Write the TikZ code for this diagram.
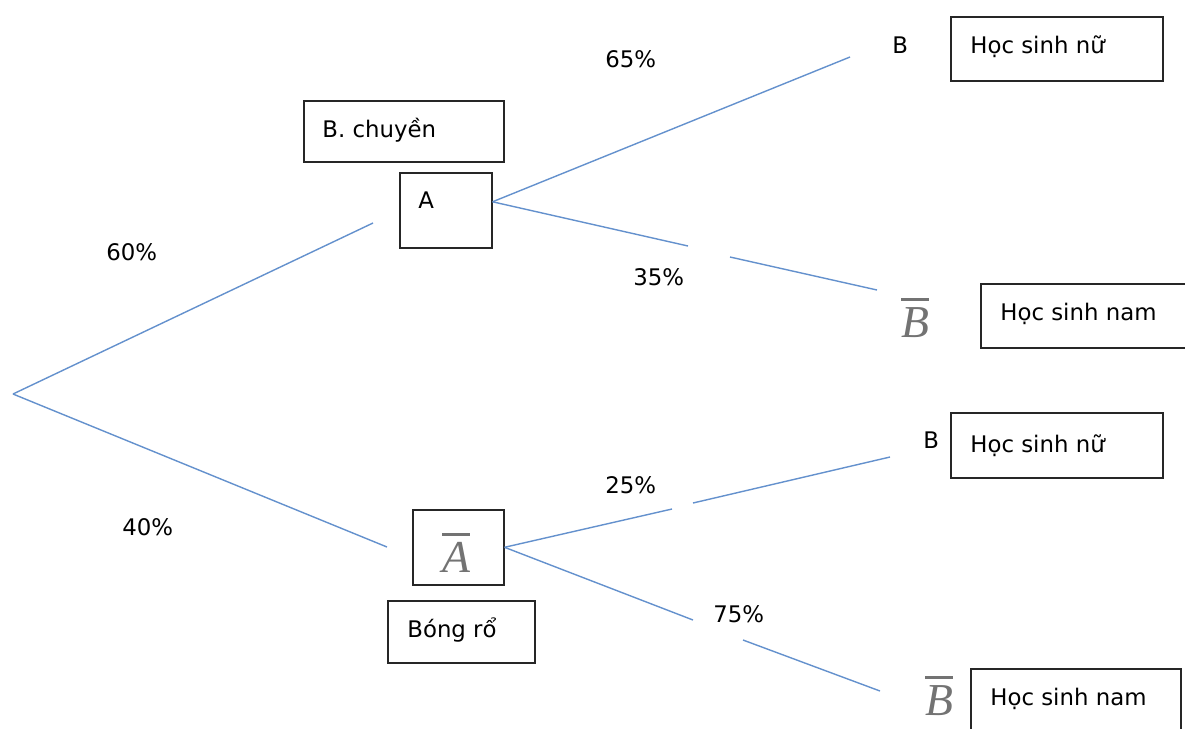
\documentclass[tikz,border=0pt]{standalone}
\usepackage{fontspec}
\setmainfont{DejaVu Sans}
\newfontfamily\varfont{Liberation Serif}
\definecolor{branchblue}{RGB}{100,145,205}
\newcommand{\barsym}[1]{\vbox{\hrule height 1.4pt\kern 3.6pt\hbox{#1}}}

\begin{document}
\begin{tikzpicture}[x=0.02cm, y=-0.02cm,
        box/.style={draw=black!85, line width=0.9pt, anchor=north west, inner sep=0pt},
        txt/.style={anchor=base west, inner sep=0pt, font=\fontsize{13}{15}\selectfont},
        varnode/.style={anchor=base, inner sep=0pt, text=black!55, font=\fontsize{26}{30}\selectfont\varfont\itshape},
        branch/.style={draw=branchblue, line width=0.8pt}]
        \useasboundingbox (0,0) rectangle (1185,728);

        % First stage (A / A bar)
        \coordinate (root) at (13,394);
        \node[box, minimum width=4cm, minimum height=1.22cm] (chuyen) at (303,100) {};
        \node[txt] (chuyentxt) at (322,137) {B. chuyền};
        \node[box, minimum width=1.84cm, minimum height=1.5cm] (A) at (399,172) {};
        \node[txt] (Atxt) at (418,208) {A};
        \node[box, minimum width=1.82cm, minimum height=1.5cm] (Abar) at (412,509) {};
        \node[varnode] (Abartxt) at (456,572) {\barsym{A}};
        \node[box, minimum width=2.94cm, minimum height=1.24cm] (bongro) at (387,600) {};
        \node[txt] (bongrotxt) at (407,637) {Bóng rổ};
        \node[txt] (p60) at (106,260) {60\%};
        \node[txt] (p40) at (122,535) {40\%};

        \coordinate (rA) at (373,223);
        \coordinate (rAbar) at (387,547);
        \draw[branch] (root) -- (rA);
        \draw[branch] (root) -- (rAbar);

        % Second stage after A
        \node[txt] (B1) at (892,53) {B};
        \node[box, minimum width=4.24cm, minimum height=1.28cm] (nu1) at (950,16) {};
        \node[txt] (nu1txt) at (970,53) {Học sinh nữ};
        \node[varnode] (Bbar1) at (915,337) {\barsym{B}};
        \node[box, minimum width=4.2cm, minimum height=1.28cm] (nam1) at (980,283) {};
        \node[txt] (nam1txt) at (1000,320) {Học sinh nam};
        \node[txt] (p65) at (605,67) {65\%};
        \node[txt] (p35) at (633,285) {35\%};

        \coordinate (Aout) at ([yshift=0.17cm]A.east);
        \coordinate (aB1) at (850,57);
        \coordinate (aBb1a) at (688,246);
        \coordinate (aBb1b) at (730,257);
        \coordinate (aBb1) at (877,290);
        \draw[branch] (Aout) -- (aB1);
        \draw[branch] (Aout) -- (aBb1a);
        \draw[branch] (aBb1b) -- (aBb1);

        % Second stage after A bar
        \node[txt] (B2) at (923,448) {B};
        \node[box, minimum width=4.24cm, minimum height=1.3cm] (nu2) at (950,412) {};
        \node[txt] (nu2txt) at (970,452) {Học sinh nữ};
        \node[varnode] (Bbar2) at (939,715) {\barsym{B}};
        \node[box, minimum width=4.2cm, minimum height=1.34cm] (nam2) at (970,668) {};
        \node[txt] (nam2txt) at (990,705) {Học sinh nam};
        \node[txt] (p25) at (605,493) {25\%};
        \node[txt] (p75) at (713,622) {75\%};

        \coordinate (bB2a) at (672,509);
        \coordinate (bB2b) at (693,503);
        \coordinate (bB2) at (890,457);
        \coordinate (bBb2a) at (693,620);
        \coordinate (bBb2b) at (743,640);
        \coordinate (bBb2) at (880,691);
        \draw[branch] (Abar.east) -- (bB2a);
        \draw[branch] (bB2b) -- (bB2);
        \draw[branch] (Abar.east) -- (bBb2a);
        \draw[branch] (bBb2b) -- (bBb2);
\end{tikzpicture}
\end{document}
